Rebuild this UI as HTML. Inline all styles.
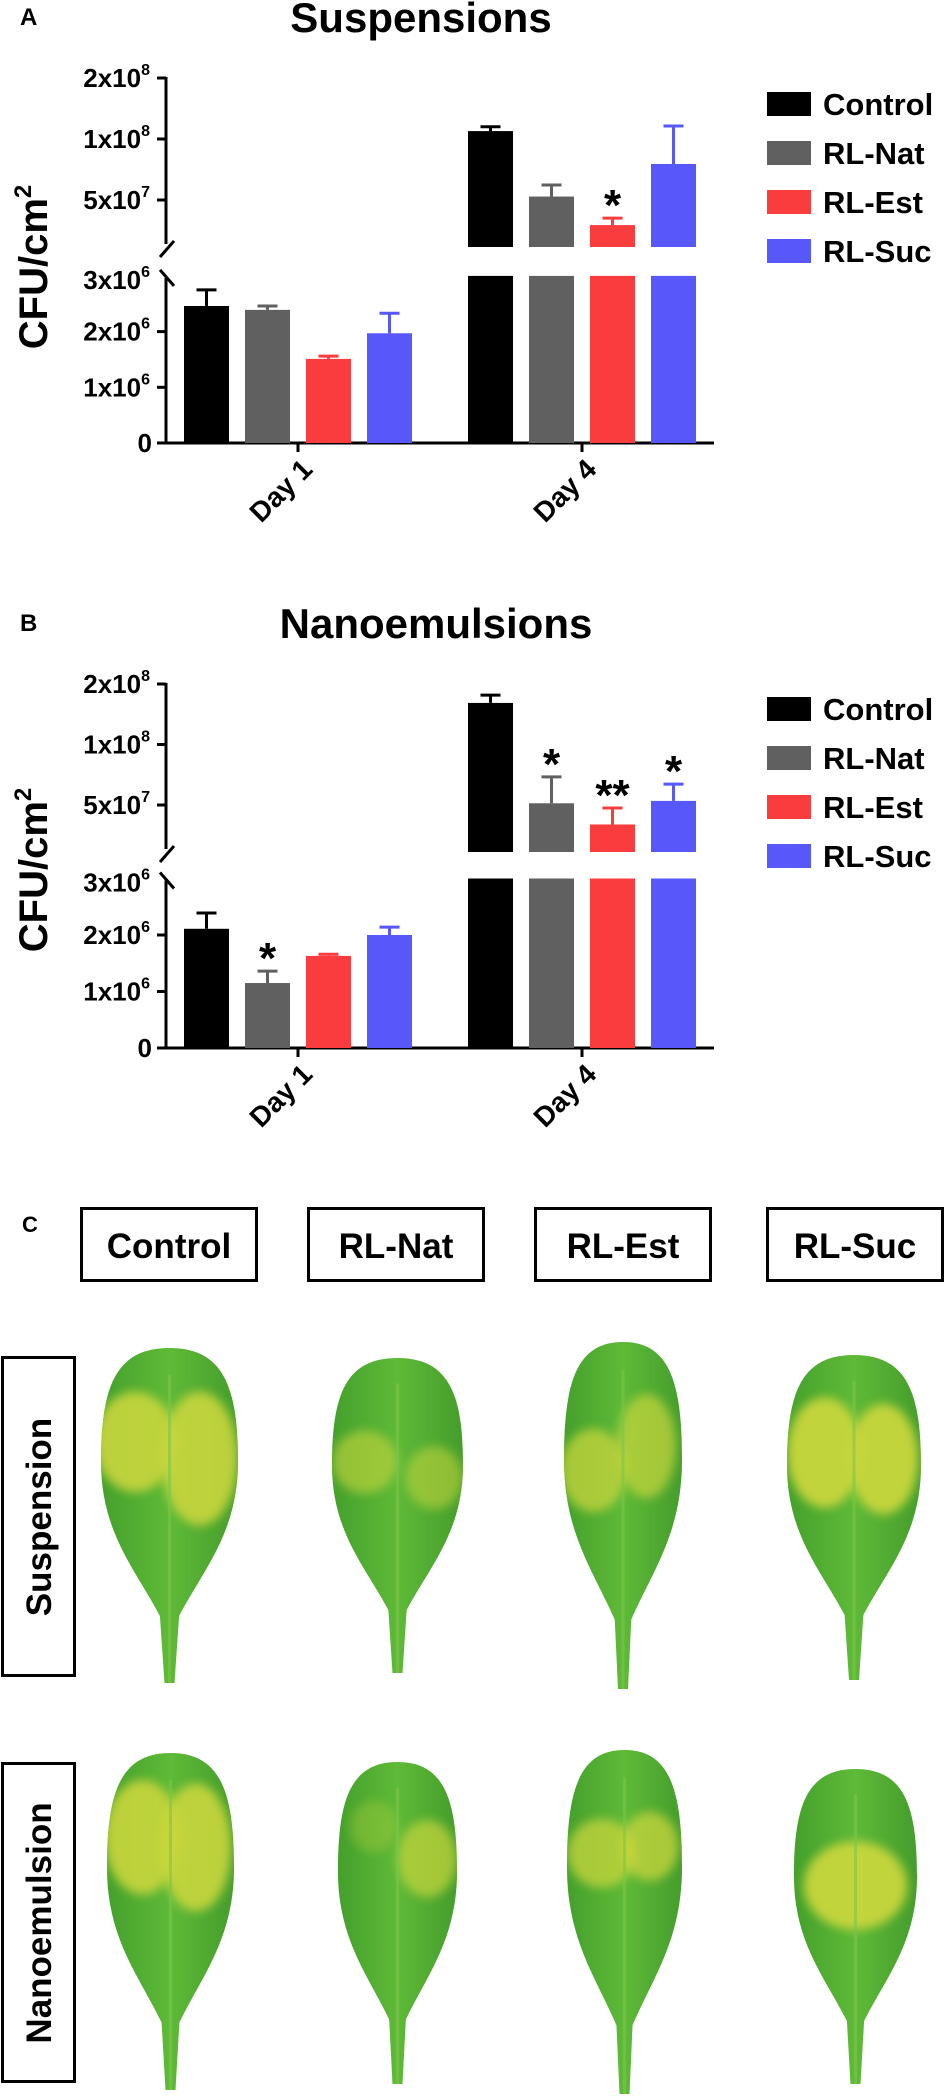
<!DOCTYPE html>
<html><head><meta charset="utf-8"><style>
html,body{margin:0;padding:0;background:#fff;}
svg{display:block;font-family:"Liberation Sans",Arial,sans-serif;font-weight:bold;}
</style></head><body>
<svg id="fig" width="945" height="2099" viewBox="0 0 945 2099">
<defs>
<filter id="blur4" x="-50%" y="-50%" width="200%" height="200%"><feGaussianBlur stdDeviation="5"/></filter>
<linearGradient id="leafg" x1="0" y1="0" x2="1" y2="0"><stop offset="0" stop-color="#44a02c"/><stop offset="0.5" stop-color="#5fba38"/><stop offset="1" stop-color="#459d2c"/></linearGradient>
</defs>
<g id="charts"></g>
<g id="photos"></g>
</svg>
<script>
const NS="http://www.w3.org/2000/svg";
const categories=["Day 1","Day 4"];
const seriesNames=["Control","RL-Nat","RL-Est","RL-Suc"];
const seriesColors=["#000000","#606060","#f93d3f","#5757fa"];
const tickLabelsLow=["0","1x10","2x10","3x10"];
const tickValuesLow=[0,1e6,2e6,3e6];
const tickLabelsUp=["5x10","1x10","2x10"];
const tickValuesUp=[5e7,1e8,2e8];
// Panel A (Suspensions): values per series [Day1, Day4]
const suspMeans=[[2.46e6,1.094e8],[2.39e6,5.2e7],[1.51e6,3.76e7],[1.97e6,7.53e7]];
const suspErr=[[2.75e6,1.15e8],[2.46e6,5.93e7],[1.56e6,4.07e7],[2.33e6,1.16e8]];
const suspStars=[["",""],["",""],["","*"],["",""]];
// Panel B (Nanoemulsions)
const nanoMeans=[[2.11e6,1.61e8],[1.15e6,5.1e7],[1.63e6,4.0e7],[2.0e6,5.24e7]];
const nanoErr=[[2.39e6,1.76e8],[1.36e6,6.9e7],[1.66e6,4.83e7],[2.14e6,6.35e7]];
const nanoStars=[["",""],["*","*"],["","**"],["","*"]];

function mk(tag,attrs,parent,text){const e=document.createElementNS(NS,tag);for(const k in attrs)e.setAttribute(k,attrs[k]);if(text!==undefined)e.textContent=text;parent.appendChild(e);return e;}

function drawPanel(p){
  const g=mk("g",{},document.getElementById("charts"));
  
  
  const ax=166, xEnd=714;
  const yLow=v=>p.zero-v/1e6*p.lowStep;
  const yUp=v=>p.top+p.upStep*Math.log2(2e8/v);
  const lowTop=yLow(3e6), upBot=p.upBot;
  const L=mk("text",{x:20,y:p.top-53,"font-size":24},g,p.letter);
  
  
  const T=mk("text",{x:p.titleX,y:p.top-46,"font-size":42,"text-anchor":"middle"},g,p.title);
  
  
  const yt=mk("text",{x:0,y:0,"font-size":40,"text-anchor":"middle",transform:`translate(47,${p.yTitleY}) rotate(-90)`},g);
  
  
  mk("tspan",{},yt,"CFU/cm");
  mk("tspan",{"font-size":24,dy:-16},yt,"2");
  const axU=mk("line",{x1:ax,y1:p.top-1,x2:ax,y2:upBot-3,stroke:"#000","stroke-width":3},g);
  
  
  const axL=mk("line",{x1:ax,y1:lowTop+2,x2:ax,y2:p.zero+1.5,stroke:"#000","stroke-width":3},g);
  
  
  const b1=mk("line",{x1:ax-6,y1:upBot+10,x2:ax+8,y2:upBot-6,stroke:"#000","stroke-width":3},g);
  
  
  const b2=mk("line",{x1:ax-6,y1:lowTop-6,x2:ax+8,y2:lowTop+10,stroke:"#000","stroke-width":3},g);
  
  
  const xa=mk("line",{x1:ax-1.5,y1:p.zero,x2:xEnd,y2:p.zero,stroke:"#000","stroke-width":3},g);
  
  
  const tick=(y,lab,exp)=>{
    const t=mk("line",{x1:ax-9,y1:y,x2:ax,y2:y,stroke:"#000","stroke-width":3},g);
    
    
    const tx=mk("text",{x:exp?ax-16:ax-14,y:y+9,"font-size":26,"text-anchor":"end"},g);
    
    
    mk("tspan",{},tx,lab);
    if(exp){mk("tspan",{"font-size":16,dy:-12},tx,exp);}
  };
  tickValuesLow.forEach((v,i)=>{if(i<3)tick(yLow(v),tickLabelsLow[i],i===0?"":"6");});
  {const i=3;const tx=mk("text",{x:ax-16,y:lowTop+13,"font-size":26,"text-anchor":"end"},g);
   
   
   mk("tspan",{},tx,tickLabelsLow[i]);mk("tspan",{"font-size":16,dy:-12},tx,"6");}
  tickValuesUp.forEach((v,i)=>tick(yUp(v),tickLabelsUp[i],i===0?"7":"8"));
  const barW=45, step=61, groupStart=[184,468];
  categories.forEach((c,ci)=>{
    const cx=groupStart[ci]+(step*3+barW)/2;
    const tk=mk("line",{x1:cx,y1:p.zero,x2:cx,y2:p.zero+9,stroke:"#000","stroke-width":3},g);
    
    
    const lb=mk("text",{x:0,y:0,"font-size":28,"text-anchor":"end",transform:`translate(${cx+16},${p.zero+28}) rotate(-45)`},g,c);
    
    
    seriesNames.forEach((s,si)=>{
      const x=groupStart[ci]+si*step, col=seriesColors[si];
      const v=p.means[si][ci], e=p.errs[si][ci];
      let topY, errY;
      if(v<=3e6){
        topY=yLow(v); errY=yLow(e);
        const r=mk("rect",{x:x,y:topY,width:barW,height:p.zero-topY,fill:col},g);
        
        
      } else {
        const r1=mk("rect",{x:x,y:lowTop,width:barW,height:p.zero-lowTop,fill:col},g);
        
        
        topY=yUp(v); errY=yUp(e);
        const r2=mk("rect",{x:x,y:topY,width:barW,height:upBot-topY,fill:col},g);
        
        
      }
      const eb=mk("path",{d:`M${x+barW/2},${topY} V${errY} M${x+barW/2-10},${errY} H${x+barW/2+10}`,stroke:col,"stroke-width":3,fill:"none"},g);
      
      
      const st=p.stars[si][ci];
      if(st){const sx=mk("text",{x:x+barW/2,y:errY+2,"font-size":44,"text-anchor":"middle"},g,st);
        
        }
    });
  });
  seriesNames.forEach((s,si)=>{
    const y=p.legY+si*49;
    const lg=mk("g",{},g);
    
    
    mk("rect",{x:767,y:y,width:44,height:24,fill:seriesColors[si]},lg);
    mk("text",{x:823,y:y+23,"font-size":31},lg,s);
  });
}
drawPanel({name:"suspensions-chart",letter:"A",title:"Suspensions",titleX:421,top:78,upStep:61,upBot:247,zero:443,lowStep:55.7,yTitleY:267,legY:92,means:suspMeans,errs:suspErr,stars:suspStars});
drawPanel({name:"nanoemulsions-chart",letter:"B",title:"Nanoemulsions",titleX:436,top:684,upStep:60.5,upBot:852,zero:1048,lowStep:56.5,yTitleY:870,legY:697,means:nanoMeans,errs:nanoErr,stars:nanoStars});

const photos=document.getElementById("photos");
const cl=mk("text",{x:22,y:1232,"font-size":22},photos,"C");


const colLabels=["Control","RL-Nat","RL-Est","RL-Suc"];
const colBoxX=[80,307,534,766];
colLabels.forEach((t,i)=>{
  const bg=mk("g",{},photos);
  
  
  mk("rect",{x:colBoxX[i]+1.5,y:1208.5,width:175,height:72,fill:"#fff",stroke:"#000","stroke-width":3},bg);
  mk("text",{x:colBoxX[i]+89,y:1258,"font-size":35,"text-anchor":"middle"},bg,t);
});
const rowLabels=["Suspension","Nanoemulsion"];
const rowBoxY=[1356,1762];
rowLabels.forEach((t,i)=>{
  const bg=mk("g",{},photos);
  
  
  mk("rect",{x:2.5,y:rowBoxY[i]+1.5,width:72,height:318,fill:"#fff",stroke:"#000","stroke-width":3},bg);
  mk("text",{x:0,y:0,"font-size":35,"text-anchor":"middle",transform:`translate(51,${rowBoxY[i]+161}) rotate(-90)`},bg,t);
});
const leaves=[
 [170,101,238,1348,1683,[[-0.25,0.28,0.3,0.15,0.9],[0.22,0.33,0.28,0.2,0.9]]],
 [398,332,463,1358,1673,[[-0.25,0.33,0.25,0.1,0.6],[0.28,0.38,0.22,0.1,0.55]]],
 [623,564,682,1342,1689,[[-0.25,0.37,0.28,0.12,0.75],[0.2,0.3,0.25,0.15,0.7]]],
 [854,787,921,1355,1680,[[-0.22,0.3,0.28,0.17,0.95],[0.22,0.32,0.26,0.17,0.95]]],
 [170,107,234,1753,2090,[[-0.22,0.25,0.3,0.17,0.9],[0.2,0.28,0.28,0.19,0.9]]],
 [397,338,457,1762,2084,[[0.25,0.3,0.25,0.12,0.7],[-0.2,0.2,0.2,0.08,0.3]]],
 [624,567,682,1750,2094,[[-0.2,0.3,0.3,0.1,0.75],[0.22,0.28,0.25,0.1,0.75]]],
 [855,794,917,1769,2084,[[0,0.37,0.42,0.14,0.95]]]
];
leaves.forEach((L,i)=>{
  const [cx,x0,x1,top,bot,spots]=L;
  const h=bot-top, hw=(x1-x0)/2, c=(x0+x1)/2;
  const lg=mk("g",{},photos);
  
  
  const d=`M${c},${top} C${c+hw*0.8},${top} ${c+hw},${top+0.12*h} ${c+hw},${top+0.34*h} C${c+hw},${top+0.55*h} ${c+hw*0.5},${top+0.66*h} ${c+hw*0.14},${top+0.8*h} L${c+5},${bot} L${c-5},${bot} L${c-hw*0.14},${top+0.8*h} C${c-hw*0.5},${top+0.66*h} ${c-hw},${top+0.55*h} ${c-hw},${top+0.34*h} C${c-hw},${top+0.12*h} ${c-hw*0.8},${top} ${c},${top} Z`;
  const cp=mk("clipPath",{id:"lc"+i},lg);
  mk("path",{d:d},cp);
  mk("path",{d:d,fill:"url(#leafg)"},lg);
  const sg=mk("g",{"clip-path":`url(#lc${i})`},lg);
  spots.forEach(s=>{
    mk("ellipse",{cx:c+s[0]*hw*2,cy:top+s[1]*h,rx:s[2]*hw*2,ry:s[3]*h,fill:"#c9d63e",opacity:s[4],filter:"url(#blur4)"},sg);
  });
  mk("path",{d:`M${c},${top+0.08*h} L${c},${bot}`,stroke:"#7cc64a","stroke-width":3,opacity:0.6},sg);
});
</script>
</body></html>
